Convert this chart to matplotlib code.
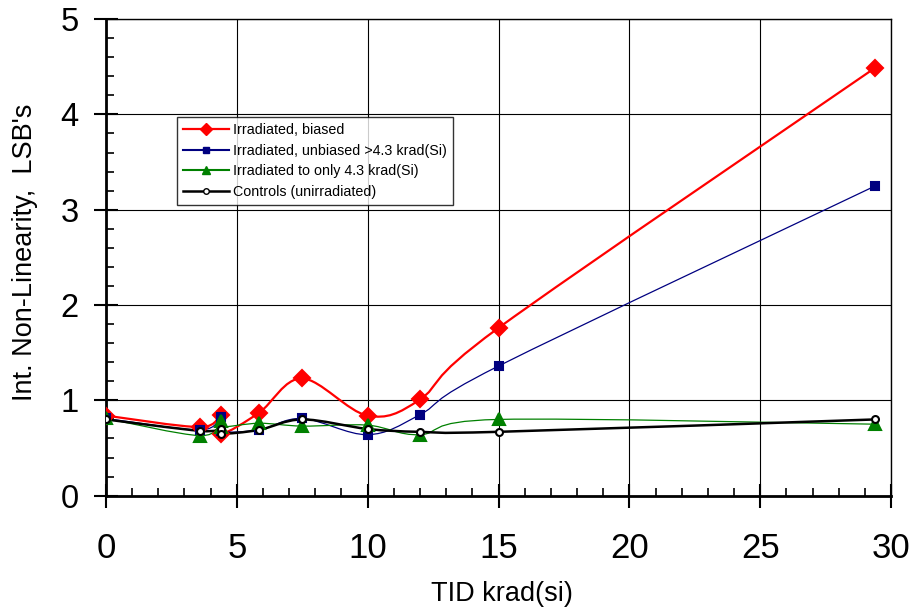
import matplotlib
matplotlib.use("Agg")
import matplotlib.pyplot as plt
from matplotlib.path import Path
from matplotlib.patches import PathPatch
from matplotlib.lines import Line2D
from matplotlib.ticker import MultipleLocator

plt.rcParams['font.family'] = ['Liberation Sans', 'DejaVu Sans']

# data
tid = [0, 3.6, 4.4, 4.4, 5.85, 7.5, 10, 12, 15, 29.4]
biased = [0.84, 0.72, 0.85, 0.65, 0.87, 1.23, 0.84, 1.01, 1.76, 4.49]
unbiased = [0.81, 0.69, 0.83, 0.68, 0.69, 0.81, 0.64, 0.85, 1.36, 3.25]
only43 = [0.81, 0.63, 0.78, 0.72, 0.76, 0.73, 0.74, 0.64, 0.80, 0.75]
controls = [0.80, 0.68, 0.70, 0.65, 0.69, 0.80, 0.70, 0.67, 0.67, 0.80]

labels = ["Irradiated, biased",
          "Irradiated, unbiased >4.3 krad(Si)",
          "Irradiated to only 4.3 krad(Si)",
          "Controls (unirradiated)"]


def smooth_path(xs, ys):
    # Excel-style smoothed line: cubic bezier through the points
    pts = list(zip(xs, ys))
    n = len(pts)
    verts = [pts[0]]
    codes = [Path.MOVETO]
    for i in range(n - 1):
        p0 = pts[i - 1] if i > 0 else pts[i]
        p1 = pts[i]
        p2 = pts[i + 1]
        p3 = pts[i + 2] if i + 2 < n else pts[i + 1]
        c1 = (p1[0] + (p2[0] - p0[0]) / 6, p1[1] + (p2[1] - p0[1]) / 6)
        c2 = (p2[0] - (p3[0] - p1[0]) / 6, p2[1] - (p3[1] - p1[1]) / 6)
        verts += [c1, c2, p2]
        codes += [Path.CURVE4] * 3
    return Path(verts, codes)


fig = plt.figure(figsize=(9.2, 6.15), dpi=100)
ax = fig.add_axes([0.1152, 0.194, 0.8533, 0.775])

styles = [
    dict(color="#FF0000", lw=1.6, marker="D", ms=8, mfc="#FF0000", mec="#FF0000"),
    dict(color="#000080", lw=0.9, marker="s", ms=6, mfc="#000080", mec="#000080"),
    dict(color="#008000", lw=0.9, marker="^", ms=8, mfc="#008000", mec="#008000"),
    dict(color="#000000", lw=1.8, marker="o", ms=5, mfc="white", mec="#000000"),
]
series = [biased, unbiased, only43, controls]

for ys, st in zip(series, styles):
    ax.add_patch(PathPatch(smooth_path(tid, ys), fill=False,
                           edgecolor=st["color"], lw=st["lw"], zorder=3))
for ys, st in zip(series, styles):
    ax.plot(tid, ys, ls="none", marker=st["marker"], ms=st["ms"],
            mfc=st["mfc"], mec=st["mec"], mew=1.5, zorder=4)

ax.set_xlim(0, 30)
ax.set_ylim(0, 5)
ax.xaxis.set_major_locator(MultipleLocator(5))
ax.xaxis.set_minor_locator(MultipleLocator(1))
ax.yaxis.set_major_locator(MultipleLocator(1))
ax.yaxis.set_minor_locator(MultipleLocator(0.2))
ax.grid(True, which="major", color="black", lw=0.8)
ax.set_axisbelow(True)

ax.tick_params(which="major", direction="inout", length=17, width=1.5)
ax.tick_params(axis="x", which="major", labelsize=25, pad=18)
ax.tick_params(axis="y", which="major", labelsize=23.5, pad=11)
ax.tick_params(which="minor", direction="in", length=6, width=1.2)
ax.tick_params(top=False, right=False)
for side in ["left", "bottom"]:
    ax.spines[side].set_linewidth(2)
for side in ["top", "right"]:
    ax.spines[side].set_linewidth(1)

ax.set_xlabel("TID krad(si)", fontsize=19.5)
ax.set_ylabel("Int. Non-Linearity,  LSB's", fontsize=19.5)
ax.xaxis.set_label_coords(0.505, -0.178)
ax.yaxis.set_label_coords(-0.087, 0.51)

handles = [Line2D([], [], color=st["color"], lw=st["lw"] if st["lw"] > 1 else 1.5,
                  marker=st["marker"], ms=st["ms"] * 0.8, mfc=st["mfc"],
                  mec=st["mec"]) for st in styles]
leg = ax.legend(handles, labels, loc="upper left", bbox_to_anchor=(0.09, 0.795),
                fontsize=10.3, frameon=True, fancybox=False, shadow=False,
                handlelength=3.2, handletextpad=0.3, labelspacing=0.45,
                borderpad=0.45, borderaxespad=0, numpoints=1)
leg.get_frame().set_edgecolor("black")
leg.get_frame().set_linewidth(1)
leg.set_zorder(5)

fig.savefig("out.png", dpi=100)
